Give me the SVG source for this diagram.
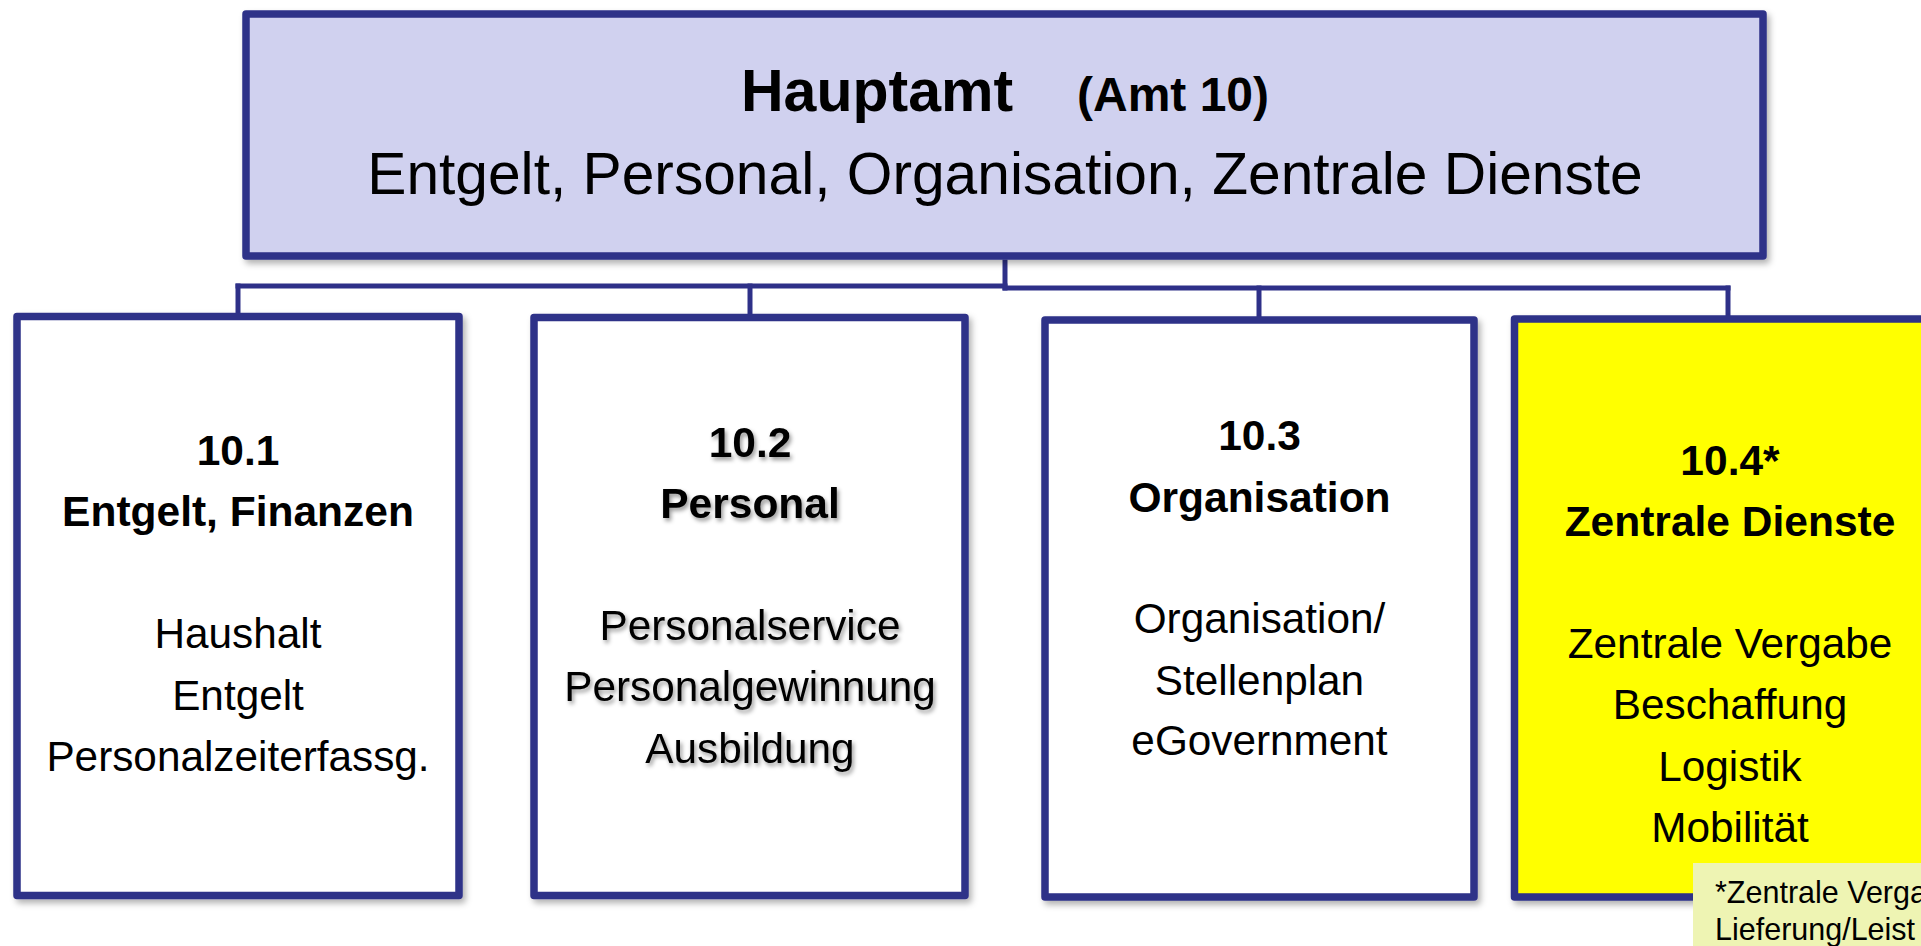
<svg xmlns="http://www.w3.org/2000/svg" width="1921" height="946" viewBox="0 0 1921 946">
  <defs>
    <filter id="boxShadow" x="-5%" y="-5%" width="115%" height="115%">
      <feDropShadow dx="3" dy="4" stdDeviation="3" flood-color="#000" flood-opacity="0.3"/>
    </filter>
    <filter id="textShadow" x="-10%" y="-20%" width="120%" height="160%">
      <feDropShadow dx="2" dy="3" stdDeviation="2" flood-color="#000" flood-opacity="0.4"/>
    </filter>
  </defs>
  <style>
    .box { stroke: #2E3088; stroke-width: 7.5; stroke-linejoin: round; }
    .white { fill: #FFFFFF; }
    .conn { stroke: #2E3088; stroke-width: 5; fill: none; stroke-linecap: square; }
    .t { font-family: "Liberation Sans", Arial, sans-serif; fill: #000; text-anchor: middle; }
    .b42 { font-size: 42.5px; font-weight: bold; }
    .r42 { font-size: 42.3px; }
  </style>
  <rect width="1921" height="946" fill="#FFFFFF"/>

  <g id="connectors">
    <line class="conn" x1="1005" y1="262" x2="1005" y2="288"/>
    <line class="conn" x1="238" y1="286" x2="1005" y2="286"/>
    <line class="conn" x1="1005" y1="288" x2="1728" y2="288"/>
    <line class="conn" x1="238" y1="286" x2="238" y2="314"/>
    <line class="conn" x1="750" y1="286" x2="750" y2="315"/>
    <line class="conn" x1="1259" y1="288" x2="1259" y2="317"/>
    <line class="conn" x1="1728" y1="288" x2="1728" y2="316"/>
  </g>

  <g id="hauptamt">
    <rect class="box" x="246" y="14" width="1517" height="242" fill="#D0D1EF" filter="url(#boxShadow)"/>
    <text x="741" y="111" font-family="Liberation Sans, Arial, sans-serif" font-size="59" font-weight="bold">Hauptamt</text>
    <text x="1077" y="111" font-family="Liberation Sans, Arial, sans-serif" font-size="48" font-weight="bold">(Amt 10)</text>
    <text class="t" x="1005" y="194" font-size="58.7">Entgelt, Personal, Organisation, Zentrale Dienste</text>
  </g>

  <g id="sg101">
    <rect class="box white" x="17" y="316.5" width="442" height="579" filter="url(#boxShadow)"/>
    <text class="t b42" x="238" y="465">10.1</text>
    <text class="t b42" x="238" y="526">Entgelt, Finanzen</text>
    <text class="t r42" x="238" y="648">Haushalt</text>
    <text class="t r42" x="238" y="710">Entgelt</text>
    <text class="t r42" x="238" y="771">Personalzeiterfassg.</text>
  </g>

  <g id="sg102">
    <rect class="box white" x="534" y="317.5" width="431" height="578" filter="url(#boxShadow)"/>
    <g filter="url(#textShadow)">
      <text class="t b42" x="750" y="457">10.2</text>
      <text class="t b42" x="750" y="518">Personal</text>
      <text class="t r42" x="750" y="640">Personalservice</text>
      <text class="t r42" x="750" y="701">Personalgewinnung</text>
      <text class="t r42" x="750" y="763">Ausbildung</text>
    </g>
  </g>

  <g id="sg103">
    <rect class="box white" x="1045" y="320" width="429" height="577" filter="url(#boxShadow)"/>
    <text class="t b42" x="1259.5" y="450">10.3</text>
    <text class="t b42" x="1259.5" y="512">Organisation</text>
    <text class="t r42" x="1259.5" y="633">Organisation/</text>
    <text class="t r42" x="1259.5" y="695">Stellenplan</text>
    <text class="t r42" x="1259.5" y="755">eGovernment</text>
  </g>

  <g id="sg104">
    <rect class="box" x="1514.5" y="319" width="440" height="578" fill="#FFFF00" filter="url(#boxShadow)"/>
    <text class="t b42" x="1730" y="475">10.4*</text>
    <text class="t b42" x="1730" y="536">Zentrale Dienste</text>
    <text class="t r42" x="1730" y="658">Zentrale Vergabe</text>
    <text class="t r42" x="1730" y="719">Beschaffung</text>
    <text class="t r42" x="1730" y="781">Logistik</text>
    <text class="t r42" x="1730" y="842">Mobilität</text>
  </g>

  <g id="note">
    <rect x="1693" y="863" width="240" height="90" fill="#EEF4B3"/>
    <text x="1715" y="903" font-family="Liberation Sans, Arial, sans-serif" font-size="30.5" fill="#000">*Zentrale Verga</text>
    <text x="1715" y="940" font-family="Liberation Sans, Arial, sans-serif" font-size="30.5" fill="#000">Lieferung/Leist</text>
  </g>
</svg>
